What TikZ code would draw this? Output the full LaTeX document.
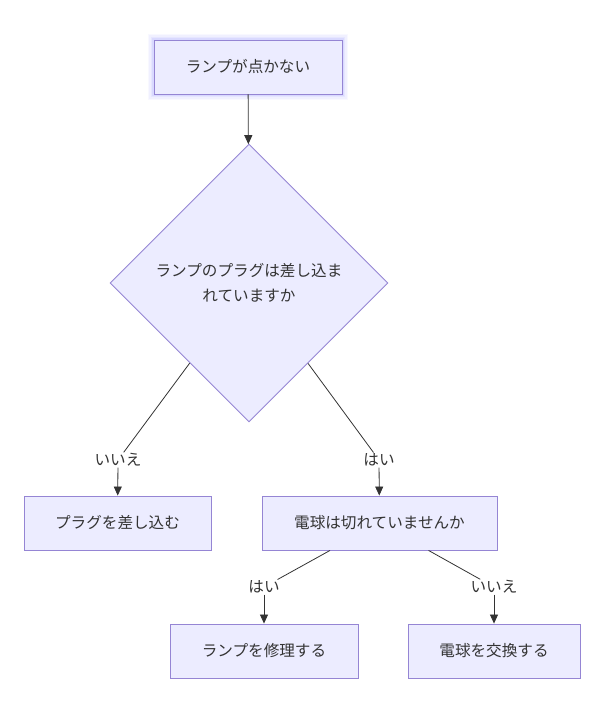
\documentclass[tikz,border=0pt]{standalone}
\usepackage{fontspec}
\setmainfont{Noto Sans CJK JP}
\usetikzlibrary{shapes.geometric,arrows.meta,backgrounds}
\definecolor{nodefill}{HTML}{ECECFF}
\definecolor{nodeline}{HTML}{9585D4}
\definecolor{edgecol}{HTML}{333333}
\definecolor{glowcol}{HTML}{7F7FFF}
\tikzset{
  box/.style={draw=nodeline, fill=nodefill, line width=0.9pt, minimum height=54pt, inner sep=0pt, text=edgecol, font=\fontsize{15.6}{24}\selectfont},
  decision/.style={diamond, aspect=1, draw=nodeline, fill=nodefill, line width=0.9pt, minimum width=278pt, minimum height=278pt, inner sep=0pt, align=center, text=edgecol, font=\fontsize{15.6}{25}\selectfont},
  elabel/.style={inner sep=1pt, text=edgecol, font=\fontsize{15.6}{18}\selectfont},
  conn/.style={draw=edgecol, line width=0.8pt},
  arr/.style={conn, -{Triangle[length=9pt,width=8pt]}}
}
\begin{document}
\begin{tikzpicture}[x=1pt,y=-1pt]
\useasboundingbox (0,0) rectangle (599,712);
\node[box, minimum width=188pt] (top) at (248,67) {ランプが点かない};
\begin{scope}[on background layer]
  \foreach \w/\o in {12/0.05,9/0.07,6/0.09,3/0.12}
    \draw[glowcol, line width=\w pt, opacity=\o] (top.south west) rectangle (top.north east);
\end{scope}
\node[decision] (d) at (249,283) {ランプのプラグは差し込ま\\れていますか};
\node[box, minimum width=187pt] (plug) at (117.5,523) {プラグを差し込む};
\node[box, minimum width=235pt] (bulb) at (379.5,523) {電球は切れていませんか};
\node[box, minimum width=188pt] (repair) at (264,651) {ランプを修理する};
\node[box, minimum width=172pt] (swap) at (494,651) {電球を交換する};
\node[elabel] (lno) at (118,460) {いいえ};
\node[elabel] (lyes) at (379,460) {はい};
\node[elabel] (lyes2) at (264,587) {はい};
\node[elabel] (lno2) at (494,587) {いいえ};
\draw[arr] (top) -- (d);
\draw[conn] (d) -- (lno);
\draw[arr] (lno) -- (plug);
\draw[conn] (d) -- (lyes);
\draw[arr] (lyes) -- (bulb);
\draw[conn] (bulb) -- (lyes2);
\draw[arr] (lyes2) -- (repair);
\draw[conn] (bulb) -- (lno2);
\draw[arr] (lno2) -- (swap);
\end{tikzpicture}
\end{document}
